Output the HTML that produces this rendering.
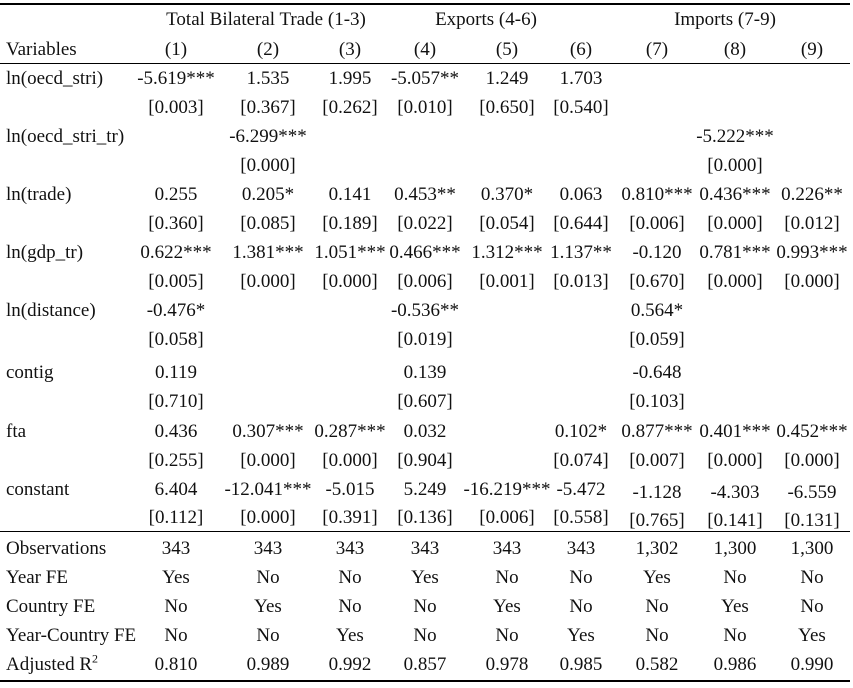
<!DOCTYPE html>
<html><head><meta charset="utf-8"><style>
body{margin:0;background:#fff;width:853px;height:688px;position:relative;overflow:hidden;font-family:"Liberation Serif",serif;font-size:19px;color:#111}
.r{position:absolute;left:0;width:853px;height:20px;line-height:20px}
.r span{position:absolute;top:0;width:100px;text-align:center;white-space:nowrap}
.r .l{left:6px;width:auto;text-align:left}
.a{left:126px}.b{left:218px}.c{left:300px}.d{left:375px}.e{left:457px}.f{left:531px}.g{left:607px}.h{left:685px}.i{left:762px}
.hl{position:absolute;left:0;width:850px;background:#000}
sup{font-size:12px;line-height:0}
</style></head><body>
<div class="hl" style="top:3px;height:2px"></div>
<div class="hl" style="top:63px;height:1px"></div>
<div class="hl" style="top:531px;height:1px"></div>
<div class="hl" style="top:680px;height:2px"></div>

<div class="r" style="top:10px"><span style="left:146px;width:240px">Total Bilateral Trade (1-3)</span><span style="left:406px;width:160px">Exports (4-6)</span><span style="left:645px;width:160px">Imports (7-9)</span></div>
<div class="r" style="top:40px"><span class="l">Variables</span><span class="a">(1)</span><span class="b">(2)</span><span class="c">(3)</span><span class="d">(4)</span><span class="e">(5)</span><span class="f">(6)</span><span class="g">(7)</span><span class="h">(8)</span><span class="i">(9)</span></div>

<div class="r" style="top:69px"><span class="l">ln(oecd_stri)</span><span class="a">-5.619***</span><span class="b">1.535</span><span class="c">1.995</span><span class="d">-5.057**</span><span class="e">1.249</span><span class="f">1.703</span></div>
<div class="r" style="top:98px"><span class="a">[0.003]</span><span class="b">[0.367]</span><span class="c">[0.262]</span><span class="d">[0.010]</span><span class="e">[0.650]</span><span class="f">[0.540]</span></div>
<div class="r" style="top:127px"><span class="l">ln(oecd_stri_tr)</span><span class="b">-6.299***</span><span class="h">-5.222***</span></div>
<div class="r" style="top:156px"><span class="b">[0.000]</span><span class="h">[0.000]</span></div>
<div class="r" style="top:185px"><span class="l">ln(trade)</span><span class="a">0.255</span><span class="b">0.205*</span><span class="c">0.141</span><span class="d">0.453**</span><span class="e">0.370*</span><span class="f">0.063</span><span class="g">0.810***</span><span class="h">0.436***</span><span class="i">0.226**</span></div>
<div class="r" style="top:214px"><span class="a">[0.360]</span><span class="b">[0.085]</span><span class="c">[0.189]</span><span class="d">[0.022]</span><span class="e">[0.054]</span><span class="f">[0.644]</span><span class="g">[0.006]</span><span class="h">[0.000]</span><span class="i">[0.012]</span></div>
<div class="r" style="top:243px"><span class="l">ln(gdp_tr)</span><span class="a">0.622***</span><span class="b">1.381***</span><span class="c">1.051***</span><span class="d">0.466***</span><span class="e">1.312***</span><span class="f">1.137**</span><span class="g">-0.120</span><span class="h">0.781***</span><span class="i">0.993***</span></div>
<div class="r" style="top:272px"><span class="a">[0.005]</span><span class="b">[0.000]</span><span class="c">[0.000]</span><span class="d">[0.006]</span><span class="e">[0.001]</span><span class="f">[0.013]</span><span class="g">[0.670]</span><span class="h">[0.000]</span><span class="i">[0.000]</span></div>
<div class="r" style="top:301px"><span class="l">ln(distance)</span><span class="a">-0.476*</span><span class="d">-0.536**</span><span class="g">0.564*</span></div>
<div class="r" style="top:330px"><span class="a">[0.058]</span><span class="d">[0.019]</span><span class="g">[0.059]</span></div>
<div class="r" style="top:363px"><span class="l">contig</span><span class="a">0.119</span><span class="d">0.139</span><span class="g">-0.648</span></div>
<div class="r" style="top:392px"><span class="a">[0.710]</span><span class="d">[0.607]</span><span class="g">[0.103]</span></div>
<div class="r" style="top:422px"><span class="l">fta</span><span class="a">0.436</span><span class="b">0.307***</span><span class="c">0.287***</span><span class="d">0.032</span><span class="f">0.102*</span><span class="g">0.877***</span><span class="h">0.401***</span><span class="i">0.452***</span></div>
<div class="r" style="top:451px"><span class="a">[0.255]</span><span class="b">[0.000]</span><span class="c">[0.000]</span><span class="d">[0.904]</span><span class="f">[0.074]</span><span class="g">[0.007]</span><span class="h">[0.000]</span><span class="i">[0.000]</span></div>
<div class="r" style="top:480px"><span class="l">constant</span><span class="a">6.404</span><span class="b">-12.041***</span><span class="c">-5.015</span><span class="d">5.249</span><span class="e">-16.219***</span><span class="f">-5.472</span><span class="g" style="top:3px">-1.128</span><span class="h" style="top:3px">-4.303</span><span class="i" style="top:3px">-6.559</span></div>
<div class="r" style="top:508px"><span class="a">[0.112]</span><span class="b">[0.000]</span><span class="c">[0.391]</span><span class="d">[0.136]</span><span class="e">[0.006]</span><span class="f">[0.558]</span><span class="g" style="top:3px">[0.765]</span><span class="h" style="top:3px">[0.141]</span><span class="i" style="top:3px">[0.131]</span></div>

<div class="r" style="top:539px"><span class="l">Observations</span><span class="a">343</span><span class="b">343</span><span class="c">343</span><span class="d">343</span><span class="e">343</span><span class="f">343</span><span class="g">1,302</span><span class="h">1,300</span><span class="i">1,300</span></div>
<div class="r" style="top:568px"><span class="l">Year FE</span><span class="a">Yes</span><span class="b">No</span><span class="c">No</span><span class="d">Yes</span><span class="e">No</span><span class="f">No</span><span class="g">Yes</span><span class="h">No</span><span class="i">No</span></div>
<div class="r" style="top:597px"><span class="l">Country FE</span><span class="a">No</span><span class="b">Yes</span><span class="c">No</span><span class="d">No</span><span class="e">Yes</span><span class="f">No</span><span class="g">No</span><span class="h">Yes</span><span class="i">No</span></div>
<div class="r" style="top:626px"><span class="l">Year-Country FE</span><span class="a">No</span><span class="b">No</span><span class="c">Yes</span><span class="d">No</span><span class="e">No</span><span class="f">Yes</span><span class="g">No</span><span class="h">No</span><span class="i">Yes</span></div>
<div class="r" style="top:655px"><span class="l">Adjusted R<sup>2</sup></span><span class="a">0.810</span><span class="b">0.989</span><span class="c">0.992</span><span class="d">0.857</span><span class="e">0.978</span><span class="f">0.985</span><span class="g">0.582</span><span class="h">0.986</span><span class="i">0.990</span></div>
</body></html>
